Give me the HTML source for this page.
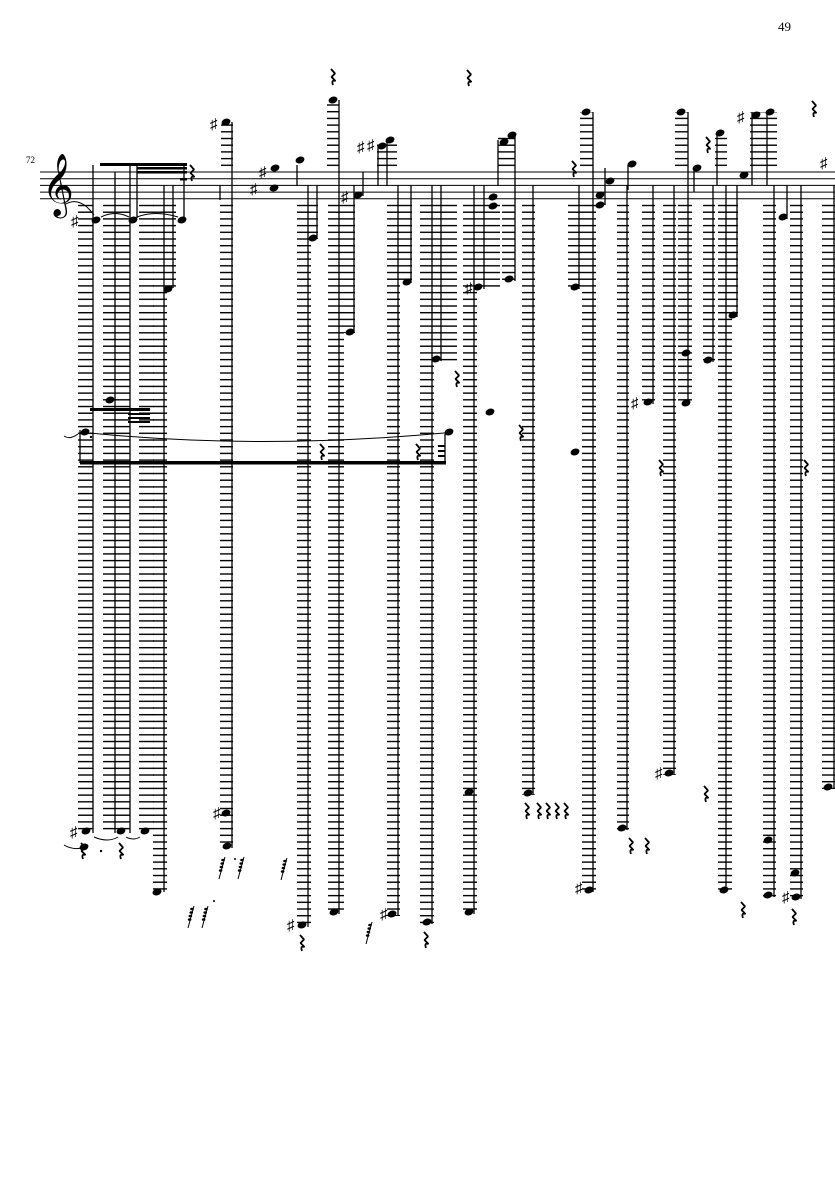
<!DOCTYPE html>
<html><head><meta charset="utf-8"><style>
html,body{margin:0;padding:0;background:#fff;width:835px;height:1181px;overflow:hidden}
svg{display:block}
text{font-family:"Liberation Serif",serif}
</style></head><body>
<svg width="835" height="1181" viewBox="0 0 835 1181" xmlns="http://www.w3.org/2000/svg">
<defs>
<pattern id="L" x="0" y="0" width="835" height="6.7" patternUnits="userSpaceOnUse">
<rect x="0" y="3.8" width="835" height="1.4" fill="#000"/>
</pattern>
<ellipse id="n" cx="0" cy="0" rx="4.6" ry="3.3" transform="rotate(-20)" fill="#000"/>
<path id="r" d="M2 0 L6 4.5 L2.5 8 L6.5 12 Q2 10.5 4 16" fill="none" stroke="#000" stroke-width="1.8" stroke-linejoin="bevel"/>
<g id="g4" fill="#000"><line x1="0" y1="22" x2="6" y2="0" stroke="#000" stroke-width="1"/>
<ellipse cx="4" cy="3" rx="1.8" ry="1.3"/><ellipse cx="3.2" cy="6.5" rx="1.8" ry="1.3"/><ellipse cx="2.4" cy="10" rx="1.8" ry="1.3"/><ellipse cx="1.6" cy="13.5" rx="1.8" ry="1.3"/></g>
</defs>
<text x="778" y="31" font-size="13">49</text>
<text x="26" y="163" font-size="9">72</text>
<g stroke="#000" stroke-width="1">
<line x1="40" y1="172" x2="835" y2="172"/><line x1="40" y1="178.7" x2="835" y2="178.7"/>
<line x1="40" y1="185.4" x2="835" y2="185.4"/><line x1="40" y1="192.1" x2="835" y2="192.1"/>
<line x1="40" y1="198.8" x2="835" y2="198.8"/>
</g>
<text x="42" y="203" font-size="54" font-family="DejaVu Sans,sans-serif">𝄞</text>
<g fill="url(#L)">
<rect x="78" y="203" width="15" height="630"/>
<rect x="103" y="203" width="27" height="630"/>
<rect x="139" y="203" width="15" height="630"/>
<rect x="153" y="203" width="14" height="690"/>
<rect x="167" y="203" width="9" height="85"/>
<rect x="220" y="203" width="13" height="645"/>
<rect x="297" y="203" width="14" height="724"/>
<rect x="311" y="203" width="7" height="36"/>
<rect x="328" y="203" width="16" height="711"/>
<rect x="344" y="203" width="11" height="130"/>
<rect x="387" y="203" width="13" height="713"/>
<rect x="400" y="203" width="12" height="80"/>
<rect x="420" y="203" width="14" height="721"/>
<rect x="434" y="203" width="23" height="158"/>
<rect x="463" y="203" width="14" height="711"/>
<rect x="477" y="203" width="23" height="86"/>
<rect x="502" y="203" width="13" height="78"/>
<rect x="522" y="203" width="13" height="592"/>
<rect x="568" y="203" width="14" height="86"/>
<rect x="582" y="203" width="14" height="689"/>
<rect x="617" y="203" width="12" height="627"/>
<rect x="642" y="203" width="13" height="201"/>
<rect x="663" y="203" width="13" height="572"/>
<rect x="678" y="203" width="14" height="202"/>
<rect x="703" y="203" width="12" height="159"/>
<rect x="718" y="203" width="14" height="689"/>
<rect x="732" y="203" width="6" height="114"/>
<rect x="763" y="203" width="13" height="694"/>
<rect x="790" y="203" width="13" height="696"/>
<rect x="822" y="203" width="13" height="586"/>
</g>
<g fill="url(#L)">
<rect x="221" y="122" width="12" height="46"/>
<rect x="327" y="100" width="12" height="68"/>
<rect x="377" y="140" width="20" height="28"/>
<rect x="498" y="135" width="17" height="33"/>
<rect x="580" y="112" width="13" height="56"/>
<rect x="675" y="112" width="13" height="56"/>
<rect x="715" y="133" width="12" height="35"/>
<rect x="750" y="112" width="27" height="56"/>
</g>
<g stroke="#000" stroke-width="1.3">
<line x1="93" y1="165" x2="93" y2="833"/><line x1="115" y1="172" x2="115" y2="833"/>
<line x1="130" y1="165" x2="130" y2="833"/><line x1="137" y1="165" x2="137" y2="218"/>
<line x1="164" y1="185" x2="164" y2="892"/><line x1="173" y1="185" x2="173" y2="288"/>
<line x1="184" y1="165" x2="184" y2="218"/>
<line x1="232" y1="122" x2="232" y2="848"/><line x1="220" y1="185" x2="220" y2="200"/>
<line x1="297" y1="165" x2="297" y2="186"/><line x1="308" y1="185" x2="308" y2="927"/>
<line x1="317" y1="185" x2="317" y2="239"/><line x1="339" y1="100" x2="339" y2="914"/>
<line x1="354" y1="185" x2="354" y2="333"/><line x1="363" y1="172" x2="363" y2="196"/>
<line x1="378" y1="145" x2="378" y2="186"/><line x1="387" y1="140" x2="387" y2="186"/>
<line x1="398" y1="185" x2="398" y2="916"/><line x1="411" y1="185" x2="411" y2="283"/>
<line x1="432" y1="185" x2="432" y2="924"/><line x1="441" y1="185" x2="441" y2="361"/>
<line x1="474" y1="185" x2="474" y2="914"/><line x1="484" y1="185" x2="484" y2="289"/>
<line x1="498" y1="140" x2="498" y2="186"/><line x1="515" y1="135" x2="515" y2="281"/>
<line x1="533" y1="185" x2="533" y2="795"/><line x1="579" y1="185" x2="579" y2="289"/>
<line x1="593" y1="112" x2="593" y2="892"/><line x1="605" y1="168" x2="605" y2="205"/>
<line x1="627" y1="185" x2="627" y2="830"/><line x1="628" y1="165" x2="628" y2="190"/>
<line x1="653" y1="185" x2="653" y2="404"/><line x1="674" y1="185" x2="674" y2="775"/>
<line x1="688" y1="112" x2="688" y2="405"/><line x1="694" y1="168" x2="694" y2="192"/>
<line x1="713" y1="185" x2="713" y2="362"/><line x1="717" y1="133" x2="717" y2="185"/>
<line x1="737" y1="185" x2="737" y2="317"/><line x1="726" y1="185" x2="726" y2="892"/>
<line x1="752" y1="112" x2="752" y2="185"/><line x1="767" y1="112" x2="767" y2="185"/>
<line x1="774" y1="185" x2="774" y2="897"/><line x1="787" y1="185" x2="787" y2="219"/>
<line x1="801" y1="185" x2="801" y2="899"/><line x1="834" y1="185" x2="834" y2="789"/>
<line x1="80" y1="430" x2="80" y2="463"/><line x1="445" y1="432" x2="445" y2="463"/>
</g>
<g fill="#000">
<rect x="100" y="163" width="87" height="3"/>
<rect x="137" y="167" width="50" height="2.5"/><rect x="137" y="171" width="50" height="2.5"/>
<rect x="180" y="178" width="7" height="2.5"/>
<rect x="80" y="461" width="366" height="3.5"/>
<rect x="90" y="408" width="60" height="3"/>
<rect x="128" y="413" width="22" height="2"/><rect x="128" y="417" width="22" height="2"/><rect x="128" y="421" width="22" height="2"/>
<rect x="438" y="445" width="7" height="2"/><rect x="438" y="450" width="7" height="2"/><rect x="438" y="455" width="7" height="2"/>
<circle cx="91" cy="437" r="1.2"/><circle cx="101" cy="851" r="1.2"/>
</g>
<g>
<use href="#n" x="96" y="220"/><use href="#n" x="133" y="220"/><use href="#n" x="182" y="220"/>
<use href="#n" x="168" y="289"/><use href="#n" x="110" y="400"/>
<use href="#n" x="226" y="122"/><use href="#n" x="274" y="188"/><use href="#n" x="275" y="168"/>
<use href="#n" x="300" y="160"/><use href="#n" x="313" y="238"/><use href="#n" x="333" y="100"/>
<use href="#n" x="358" y="195"/><use href="#n" x="350" y="332"/><use href="#n" x="382" y="146"/><use href="#n" x="390" y="140"/>
<use href="#n" x="407" y="282"/><use href="#n" x="436" y="359"/><use href="#n" x="478" y="287"/><use href="#n" x="509" y="279"/>
<use href="#n" x="493" y="197"/><use href="#n" x="493" y="206"/><use href="#n" x="504" y="142"/><use href="#n" x="512" y="135"/>
<use href="#n" x="575" y="287"/><use href="#n" x="586" y="112"/><use href="#n" x="600" y="195"/><use href="#n" x="600" y="205"/><use href="#n" x="610" y="181"/>
<use href="#n" x="632" y="164"/><use href="#n" x="648" y="402"/><use href="#n" x="681" y="112"/><use href="#n" x="686" y="353"/><use href="#n" x="686" y="403"/>
<use href="#n" x="697" y="168"/><use href="#n" x="708" y="360"/><use href="#n" x="720" y="133"/><use href="#n" x="733" y="315"/>
<use href="#n" x="744" y="175"/><use href="#n" x="756" y="115"/><use href="#n" x="770" y="112"/><use href="#n" x="783" y="217"/>
<use href="#n" x="85" y="432"/><use href="#n" x="449" y="432"/><use href="#n" x="490" y="412"/><use href="#n" x="575" y="452"/>
<use href="#n" x="86" y="831"/><use href="#n" x="121" y="831"/><use href="#n" x="145" y="831"/><use href="#n" x="157" y="892"/>
<use href="#n" x="226" y="813"/><use href="#n" x="227" y="846"/><use href="#n" x="302" y="925"/><use href="#n" x="334" y="912"/>
<use href="#n" x="392" y="914"/><use href="#n" x="427" y="922"/><use href="#n" x="469" y="912"/><use href="#n" x="528" y="793"/>
<use href="#n" x="589" y="890"/><use href="#n" x="622" y="828"/><use href="#n" x="669" y="773"/><use href="#n" x="724" y="890"/>
<use href="#n" x="768" y="895"/><use href="#n" x="796" y="897"/><use href="#n" x="795" y="873"/><use href="#n" x="828" y="787"/>
<use href="#n" x="768" y="840"/><use href="#n" x="469" y="792"/>
<use href="#n" x="84" y="847"/>
</g>
<g fill="none" stroke="#000" stroke-width="1">
<path d="M66 204 Q80 196 94 215"/><path d="M101 217 Q115 210 129 217"/><path d="M137 217 Q155 210 178 217"/>
<path d="M90 433 Q260 450 444 433"/><path d="M64 436 Q70 440 78 434"/>
<path d="M94 837 Q108 843 118 837"/><path d="M126 837 Q133 841 140 837"/><path d="M64 845 Q72 850 82 848"/>
</g>
<g font-size="15" font-family="DejaVu Sans,sans-serif">
<text x="71" y="226">♯</text><text x="210" y="129">♯</text><text x="250" y="194">♯</text><text x="259" y="177">♯</text>
<text x="341" y="202">♯</text><text x="357" y="152">♯</text><text x="367" y="150">♯</text><text x="465" y="293">♯</text>
<text x="631" y="408">♯</text><text x="737" y="122">♯</text><text x="820" y="168">♯</text>
<text x="70" y="837">♯</text><text x="213" y="818">♯</text><text x="287" y="930">♯</text><text x="380" y="919">♯</text>
<text x="575" y="893">♯</text><text x="655" y="778">♯</text><text x="782" y="902">♯</text>
</g>
<g>
<use href="#r" x="188" y="165"/><use href="#r" x="329" y="69"/><use href="#r" x="465" y="70"/><use href="#r" x="570" y="161"/>
<use href="#r" x="704" y="137"/><use href="#r" x="810" y="101"/><use href="#r" x="318" y="444"/><use href="#r" x="414" y="444"/>
<use href="#r" x="453" y="371"/><use href="#r" x="517" y="425"/><use href="#r" x="657" y="460"/><use href="#r" x="802" y="460"/>
<use href="#r" x="79" y="843"/><use href="#r" x="117" y="843"/><use href="#r" x="298" y="935"/><use href="#r" x="422" y="932"/>
<use href="#r" x="523" y="803"/><use href="#r" x="535" y="803"/><use href="#r" x="544" y="803"/><use href="#r" x="553" y="803"/><use href="#r" x="562" y="803"/>
<use href="#r" x="627" y="838"/><use href="#r" x="643" y="838"/><use href="#r" x="702" y="786"/><use href="#r" x="739" y="902"/><use href="#r" x="790" y="909"/>
</g>
<g>
<use href="#g4" x="188" y="906"/><use href="#g4" x="202" y="906"/>
<use href="#g4" x="219" y="857"/><use href="#g4" x="238" y="857"/>
<use href="#g4" x="281" y="858"/><use href="#g4" x="366" y="922"/>
<circle cx="214" cy="901" r="1" fill="#000"/><circle cx="235" cy="859" r="1" fill="#000"/>
</g>
</svg>
</body></html>
